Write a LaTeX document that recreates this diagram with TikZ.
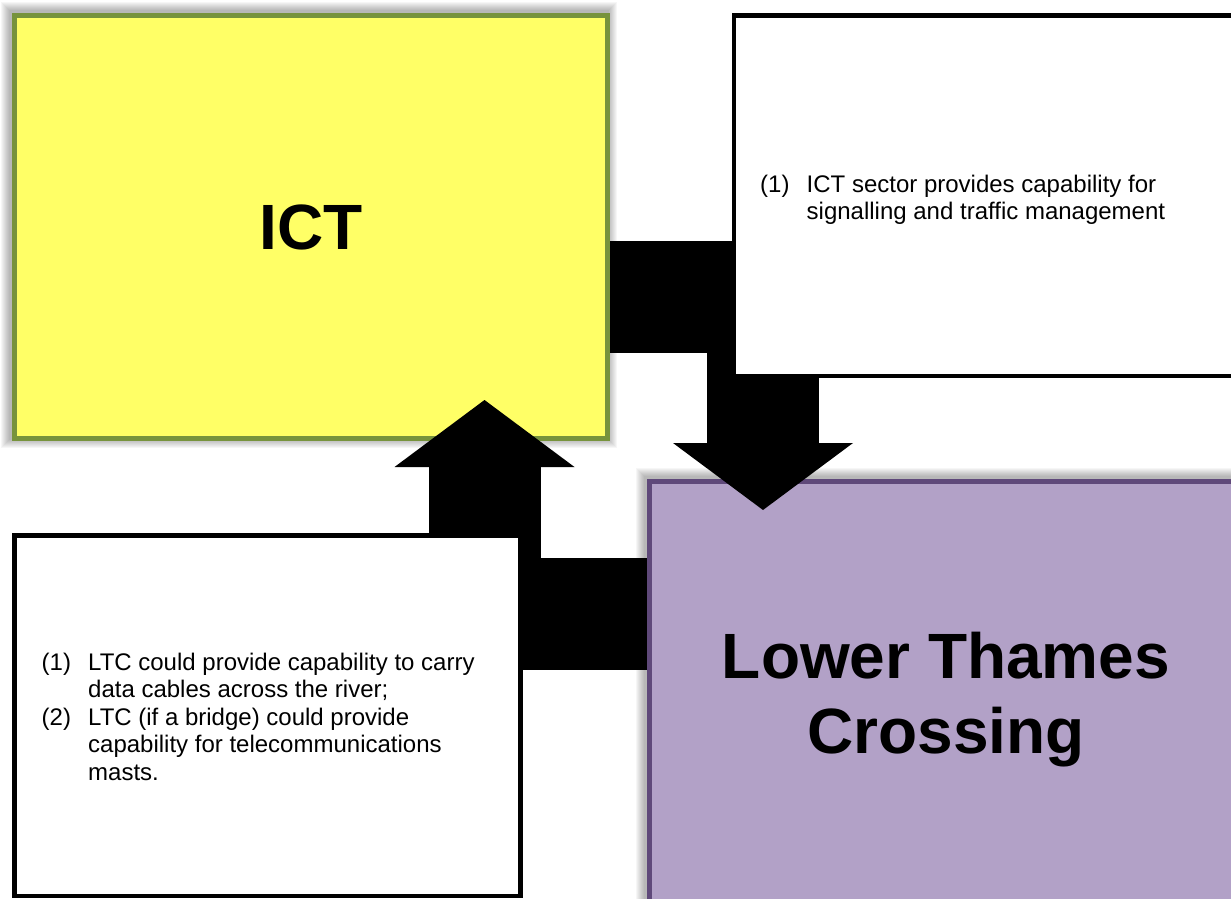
\documentclass[tikz,border=0pt]{standalone}
\usepackage{fontspec}
\setmainfont{Liberation Sans}
\usetikzlibrary{arrows.meta,backgrounds}
\definecolor{ictfill}{HTML}{FFFF66}
\definecolor{ictline}{HTML}{77933C}
\definecolor{ltcfill}{HTML}{B2A1C7}
\definecolor{ltcline}{HTML}{5F497A}

\begin{document}
\begin{tikzpicture}[x=1pt,y=-1pt,
    sectorbox/.style={draw,line width=5pt,minimum width=593pt,minimum height=423pt,inner sep=0pt,text depth=0pt,align=center,font=\bfseries\fontsize{64}{75}\selectfont},
    notebox/.style={draw=black,fill=white,line width=4.5pt,inner sep=0pt,minimum height=360.5pt},
    notetext/.style={anchor=base west,inner sep=0pt,align=left},
    blockarrow/.style={line width=112pt,-{Triangle[width=180pt 0 0,length=67pt 0 0,line width=0pt 0 0]}}]
        \newcommand{\itemno}[1]{\makebox[46.5pt][l]{#1}}
        \newcommand{\itemgap}{\hspace*{46.5pt}}
        \useasboundingbox (0,0) rectangle (1231,899);
        % Sector boxes
        \node[sectorbox,draw=ictline,fill=ictfill] (ict) at (311,227) {ICT};
        \node[sectorbox,draw=ltcline,fill=ltcfill] (ltc) at (946,693) {Lower Thames\\Crossing};
        % Soft shadows
        \begin{scope}[on background layer]
            \foreach \n in {ict,ltc} {\foreach \d in {1,...,9} {\fill[black,opacity=0.035] ([shift={(-2-\d,-2-\d)}]\n.north west) rectangle ([shift={(-2+\d,-2+\d)}]\n.south east);}}
        \end{scope}
        % Arrows between sectors
        \coordinate (ltctip) at (763,510);
        \coordinate (icttip) at (484.5,400);
        \draw[blockarrow] ([yshift=-70pt]ict.east) -| (ltctip);
        \draw[blockarrow] ([yshift=79.5pt]ltc.west) -| (icttip);
        % Dependency notes (base = last line)
        \node[notebox,minimum width=504pt] (ictnote) at (986,195.75) {};
        \node[notebox,minimum width=506pt] (ltcnote) at (267.5,715.75) {};
        \node[notetext,font=\fontsize{24}{27}\selectfont] (ictlist) at (760,219) {\itemno{(1)}ICT sector provides capability for\\\itemgap signalling and traffic management};
        \node[notetext,font=\fontsize{24}{27.5}\selectfont] (ltclist) at (41.5,780) {\itemno{(1)}LTC could provide capability to carry\\\itemgap data cables across the river;\\\itemno{(2)}LTC (if a bridge) could provide\\\itemgap capability for telecommunications\\\itemgap masts.};
    \end{tikzpicture}
\end{document}
